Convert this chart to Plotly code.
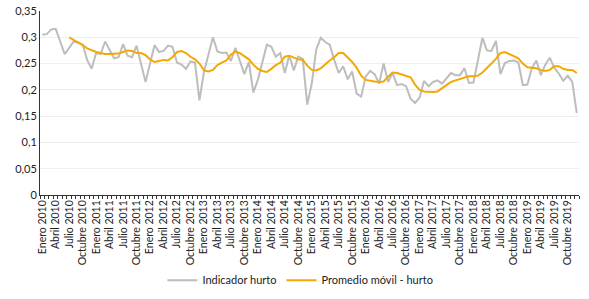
import plotly.graph_objects as go

meses = ["Enero", "Febrero", "Marzo", "Abril", "Mayo", "Junio", "Julio", "Agosto",
         "Septiembre", "Octubre", "Noviembre", "Diciembre"]
anios = list(range(2010, 2020))
categorias = [f"{m} {a}" for a in anios for m in meses]

indicador_hurto = [
    0.305, 0.306, 0.315, 0.316, 0.292, 0.268, 0.280, 0.292, 0.290, 0.286, 0.257, 0.240,
    0.270, 0.268, 0.292, 0.277, 0.260, 0.262, 0.287, 0.265, 0.262, 0.284, 0.250, 0.215,
    0.250, 0.285, 0.272, 0.274, 0.284, 0.282, 0.252, 0.248, 0.240, 0.254, 0.252, 0.180,
    0.234, 0.270, 0.300, 0.273, 0.270, 0.271, 0.255, 0.280, 0.255, 0.230, 0.253, 0.195,
    0.219, 0.255, 0.286, 0.282, 0.263, 0.270, 0.232, 0.266, 0.237, 0.263, 0.259, 0.172,
    0.212, 0.277, 0.299, 0.291, 0.286, 0.257, 0.232, 0.245, 0.220, 0.235, 0.193, 0.187,
    0.225, 0.236, 0.230, 0.212, 0.250, 0.215, 0.232, 0.209, 0.211, 0.207, 0.183, 0.175,
    0.185, 0.217, 0.207, 0.215, 0.218, 0.212, 0.222, 0.232, 0.228, 0.228, 0.241, 0.213,
    0.214, 0.255, 0.299, 0.275, 0.274, 0.293, 0.230, 0.251, 0.255, 0.256, 0.252, 0.209,
    0.210, 0.241, 0.256, 0.228, 0.248, 0.261, 0.242, 0.231, 0.217, 0.227, 0.215, 0.156,
]

promedio_movil = [
    None, None, None, None, None, None, 0.300, 0.295, 0.291, 0.285, 0.279, 0.275,
    0.272, 0.270, 0.268, 0.268, 0.268, 0.269, 0.272, 0.275, 0.274, 0.270, 0.270, 0.266,
    0.258, 0.253, 0.255, 0.257, 0.256, 0.262, 0.272, 0.274, 0.270, 0.263, 0.258, 0.250,
    0.237, 0.235, 0.238, 0.247, 0.252, 0.256, 0.267, 0.273, 0.270, 0.264, 0.258, 0.248,
    0.240, 0.236, 0.234, 0.240, 0.247, 0.252, 0.263, 0.265, 0.262, 0.258, 0.257, 0.246,
    0.238, 0.237, 0.241, 0.249, 0.256, 0.262, 0.270, 0.270, 0.262, 0.253, 0.242, 0.227,
    0.219, 0.217, 0.216, 0.215, 0.216, 0.225, 0.233, 0.232, 0.229, 0.226, 0.224, 0.210,
    0.200, 0.197, 0.196, 0.196, 0.197, 0.203, 0.210, 0.215, 0.218, 0.221, 0.224, 0.226,
    0.226, 0.227, 0.233, 0.241, 0.250, 0.259, 0.270, 0.272, 0.268, 0.263, 0.260, 0.250,
    0.243, 0.242, 0.241, 0.238, 0.236, 0.238, 0.245, 0.245, 0.240, 0.238, 0.238, 0.232,
]

y_ticks = [0, 0.05, 0.1, 0.15, 0.2, 0.25, 0.3, 0.35]
y_ticktext = ["0", "0,05", "0,1", "0,15", "0,2", "0,25", "0,3", "0,35"]

x_idx = list(range(len(categorias)))
x_tickvals = x_idx[::3]
x_ticktext = categorias[::3]

font_family = "Lato, 'Open Sans', sans-serif"

fig = go.Figure()
fig.add_trace(go.Scatter(
    x=x_idx, y=indicador_hurto, mode="lines", name="Indicador hurto",
    line=dict(color="#bdbdbd", width=2),
))
fig.add_trace(go.Scatter(
    x=x_idx, y=promedio_movil, mode="lines", name="Promedio móvil - hurto",
    line=dict(color="#f5a800", width=2),
))

fig.update_layout(
    width=589, height=299,
    autosize=False,
    margin=dict(l=40, r=10, t=11, b=104, autoexpand=False),
    paper_bgcolor="white", plot_bgcolor="white",
    font=dict(family=font_family, size=11, color="#222222"),
    showlegend=True,
    legend=dict(orientation="h", xref="container", x=0.51, xanchor="center",
                yref="container", y=0.063, yanchor="middle",
                font=dict(size=11, color="#222222"), itemwidth=30),
    xaxis=dict(
        range=[-0.5, 119.5], tickmode="array", tickvals=x_tickvals, ticktext=x_ticktext,
        tickangle=-90, ticks="", showgrid=False, zeroline=False, automargin=False,
        showline=True, linecolor="#333333", linewidth=1,
        tickfont=dict(size=10.5, color="#222222"),
        minor=dict(ticks="outside", tickmode="linear", tick0=-0.5, dtick=1,
                   ticklen=3, tickcolor="#333333", showgrid=False),
    ),
    yaxis=dict(
        range=[0, 0.35], tickmode="array", tickvals=y_ticks, ticktext=y_ticktext,
        showgrid=True, gridcolor="#eeeeee", gridwidth=1, zeroline=False, automargin=False,
        showline=True, linecolor="#333333", linewidth=1, ticks="",
        tickfont=dict(size=11, color="#222222"),
    ),
)

fig.write_html(
    "out.html",
    config={"displayModeBar": False},
    post_script="document.body.style.margin='0';document.body.style.overflow='hidden';",
)
